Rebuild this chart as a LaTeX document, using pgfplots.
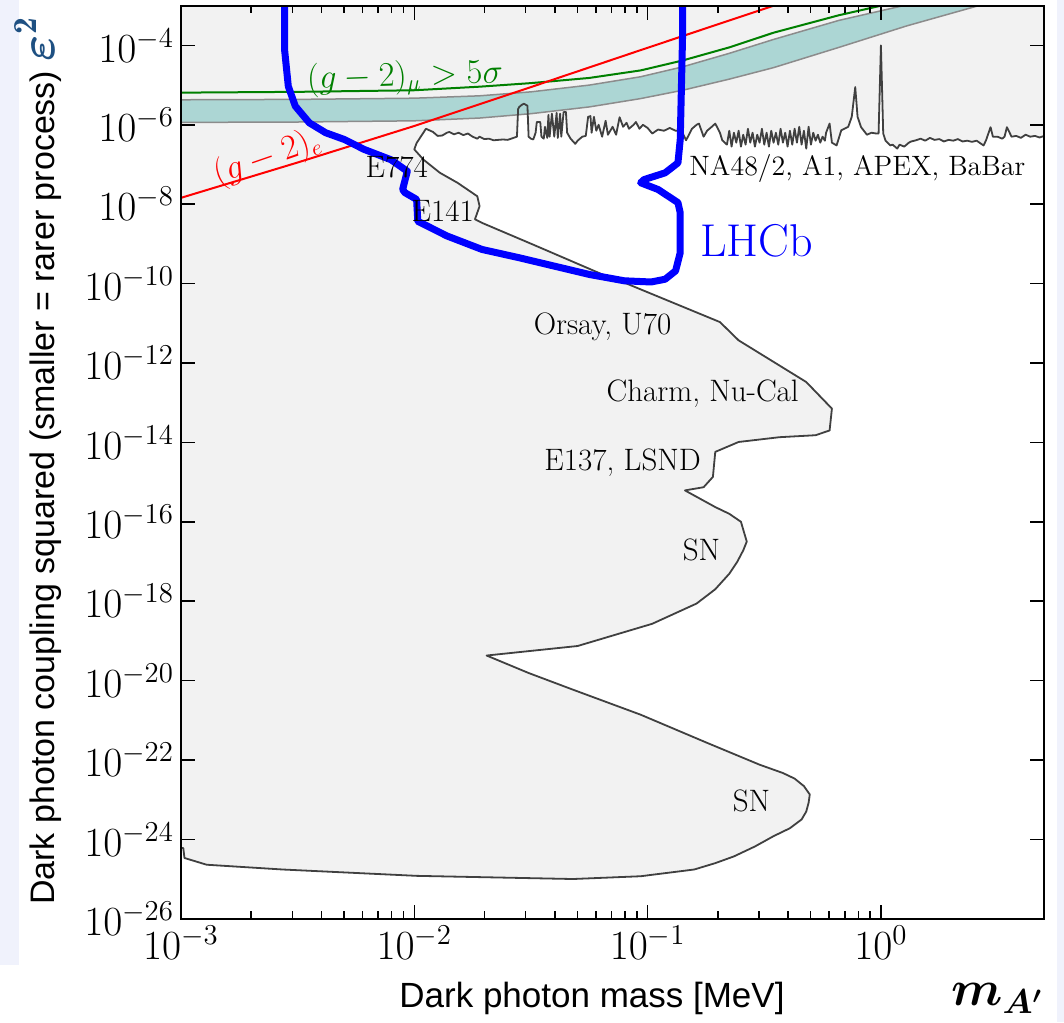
\documentclass[border=0pt]{standalone}
\usepackage{pgfplots}
\pgfplotsset{compat=1.18}
\usepackage{pgfplotstable}
\usepackage{amsmath}
\usepackage{fontspec}
\newfontfamily\arialfont{Liberation Sans}
\definecolor{bggray}{RGB}{242,242,242}
\definecolor{bdgray}{RGB}{64,64,64}
\definecolor{bandteal}{RGB}{172,214,212}
\definecolor{bandedge}{RGB}{140,140,140}
\definecolor{gmugreen}{RGB}{0,128,0}
\definecolor{epsblue}{RGB}{30,80,130}
\definecolor{lavender}{RGB}{240,242,252}

\pgfplotstableread{
x y
6.026 5.248e-7
5.012 5.248e-7
4.786 4.786e-7
4.571 5.248e-7
4.365 5.012e-7
4.169 5.623e-7
3.981 4.677e-7
3.802 5.248e-7
3.631 5.012e-7
3.467 8.710e-7
3.388 5.012e-7
3.311 4.467e-7
3.162 5.012e-7
3.020 5.012e-7
2.951 8.710e-7
2.818 3.981e-7
2.754 3.020e-7
2.570 3.981e-7
2.455 3.715e-7
2.344 3.981e-7
2.239 3.802e-7
2.138 4.365e-7
2.042 3.981e-7
1.950 4.169e-7
1.862 3.802e-7
1.778 4.365e-7
1.698 4.169e-7
1.622 4.677e-7
1.549 3.981e-7
1.479 4.467e-7
1.413 4.074e-7
1.349 3.802e-7
1.318 3.548e-7
1.259 2.818e-7
1.202 3.162e-7
1.175 2.512e-7
1.122 3.162e-7
1.096 3.020e-7
1.047 3.981e-7
1.023 6.026e-7
1.000 1.000e-4
0.9772 6.026e-7
0.9550 6.026e-7
0.9120 6.310e-7
0.8710 5.623e-7
0.8222 8.710e-7
0.7943 1.585e-6
0.7762 8.913e-6
0.7499 1.585e-6
0.7244 8.913e-7
0.6761 7.244e-7
0.6457 3.020e-7
0.6166 3.548e-7
0.6026 1.072e-6
0.5821 6.310e-7
0.5754 3.981e-7
0.5623 5.012e-7
0.5495 3.548e-7
0.5370 5.623e-7
0.5248 3.981e-7
0.5129 6.310e-7
0.5012 3.162e-7
0.4898 8.913e-7
0.4786 2.512e-7
0.4677 7.079e-7
0.4571 3.162e-7
0.4467 8.913e-7
0.4365 3.548e-7
0.4266 7.943e-7
0.4169 3.162e-7
0.4074 7.079e-7
0.3981 2.818e-7
0.3890 6.310e-7
0.3802 3.548e-7
0.3715 7.943e-7
0.3631 3.162e-7
0.3548 6.310e-7
0.3467 3.548e-7
0.3388 7.079e-7
0.3311 2.818e-7
0.3236 6.310e-7
0.3162 3.162e-7
0.3090 7.943e-7
0.3020 3.548e-7
0.2951 5.623e-7
0.2884 2.818e-7
0.2818 6.310e-7
0.2754 3.548e-7
0.2692 7.943e-7
0.2630 3.162e-7
0.2570 5.623e-7
0.2512 2.818e-7
0.2455 7.079e-7
0.2399 3.548e-7
0.2344 6.310e-7
0.2291 2.818e-7
0.2239 7.079e-7
0.2188 3.162e-7
0.2089 4.074e-7
0.2042 6.310e-7
0.1950 1.072e-6
0.1884 8.913e-7
0.1799 7.079e-7
0.1738 5.012e-7
0.1660 1.072e-6
0.1622 1.000e-6
0.1549 7.943e-7
0.1462 4.074e-7
0.1396 7.244e-7
0.1318 7.079e-7
0.1245 8.318e-7
0.1175 7.079e-7
0.1109 7.586e-7
0.1047 6.026e-7
0.1000 8.318e-7
0.09550 1.000e-6
0.09226 7.943e-7
0.08913 1.175e-6
0.08710 1.000e-6
0.08318 7.943e-7
0.08128 1.122e-6
0.07852 8.913e-7
0.07586 1.549e-6
0.07328 5.623e-7
0.07079 8.913e-7
0.06761 5.623e-7
0.06607 1.259e-6
0.06383 5.012e-7
0.06166 1.000e-6
0.06026 7.079e-7
0.05888 1.585e-6
0.05754 6.310e-7
0.05689 1.660e-6
0.05559 1.585e-6
0.05433 5.248e-7
0.05248 5.012e-7
0.05012 3.981e-7
0.04898 3.311e-7
0.04677 4.467e-7
0.04519 6.310e-7
0.04467 2.089e-6
0.04365 2.089e-6
0.04266 5.012e-7
0.04217 1.905e-6
0.04121 4.677e-7
0.04074 1.995e-6
0.03981 5.012e-7
0.03890 1.905e-6
0.03802 5.012e-7
0.03758 1.778e-6
0.03715 4.677e-7
0.03631 8.913e-7
0.03589 4.467e-7
0.03508 5.012e-7
0.03467 1.175e-6
0.03350 1.175e-6
0.03311 6.310e-7
0.03236 4.266e-7
0.03162 4.467e-7
0.03090 5.012e-7
0.03055 3.020e-6
0.02951 3.388e-6
0.02884 3.162e-6
0.02818 2.818e-6
0.02786 2.512e-6
0.02754 5.012e-7
0.02661 4.677e-7
0.02512 4.169e-7
0.02399 4.266e-7
0.02291 4.169e-7
0.02188 4.074e-7
0.02089 4.467e-7
0.01995 4.365e-7
0.01905 5.012e-7
0.01862 4.467e-7
0.01778 5.012e-7
0.01698 6.026e-7
0.01622 5.495e-7
0.01549 6.310e-7
0.01479 5.754e-7
0.01413 6.607e-7
0.01380 6.310e-7
0.01318 5.370e-7
0.01259 5.248e-7
0.01202 6.607e-7
0.01122 7.943e-7
0.01023 3.467e-7
0.01000 2.399e-7
0.01096 1.318e-7
0.01288 6.166e-8
0.01531 3.467e-8
0.01862 1.585e-8
0.01905 8.913e-9
0.01820 4.169e-9
0.01950 3.388e-9
0.03236 9.550e-10
0.07079 1.318e-10
0.08128 1.000e-10
0.2042 1.072e-11
0.2455 3.715e-12
0.4786 3.311e-13
0.6166 7.079e-14
0.6026 1.995e-14
0.5248 1.514e-14
0.3673 1.349e-14
0.2455 1.023e-14
0.1950 5.754e-15
0.1905 1.349e-15
0.1738 7.413e-16
0.1445 6.166e-16
0.1950 2.344e-16
0.2239 1.585e-16
0.2512 1.000e-16
0.2600 5.012e-17
0.2661 3.162e-17
0.2570 1.905e-17
0.2427 1.000e-17
0.2239 4.898e-18
0.1950 1.995e-18
0.1622 8.710e-19
0.1047 2.692e-19
0.05012 7.413e-20
0.02042 4.266e-20
0.03090 1.549e-20
0.04786 5.888e-21
0.09333 1.380e-21
0.1799 2.692e-22
0.3020 7.586e-23
0.3802 4.677e-23
0.4266 3.388e-23
0.4677 2.188e-23
0.4955 1.349e-23
0.4898 8.318e-24
0.4786 5.012e-24
0.4571 3.162e-24
0.4074 1.905e-24
0.3467 1.202e-24
0.2884 6.607e-25
0.2344 3.715e-25
0.1950 2.512e-25
0.1585 1.738e-25
0.09333 1.175e-25
0.04786 1.000e-25
0.01023 1.202e-25
0.002723 1.738e-25
0.001288 2.291e-25
0.001035 3.388e-25
0.001023 6.026e-25
0.0009 6.026e-25
0.0009 1e-27
6.026 1e-27
}\boundary

\begin{document}
\begin{tikzpicture}
\path[use as bounding box] (-90.5pt,-51.8pt) rectangle (441.5pt,459.35pt);
\fill[white] (-90.5pt,-51.8pt) rectangle (441.5pt,459.35pt);
\fill[lavender] (-90.5pt,-23.3pt) rectangle (-81pt,459.35pt);
\fill[lavender] (438pt,-51.8pt) rectangle (441.5pt,459.35pt);
\begin{axis}[
  at={(0,0)}, anchor=south west,
  scale only axis, width=431.5pt, height=456.5pt,
  xmode=log, ymode=log,
  xmin=1e-3, xmax=5, ymin=1e-26, ymax=1e-3,
  xtick={1e-3,1e-2,1e-1,1},
  ytick={1e-26,1e-24,1e-22,1e-20,1e-18,1e-16,1e-14,1e-12,1e-10,1e-8,1e-6,1e-4},
  yminorticks=false,
  tick align=inside,
  major tick length=7pt, minor tick length=3.75pt,
  tick style={black, line width=0.8pt},
  axis line style={line width=1pt},
  tick label style={font=\fontsize{21}{25}\selectfont},
  axis background/.style={fill=bggray},
  axis on top,
]
% allowed (white) region
\addplot[fill=white, draw=none] table[x=x,y=y] {\boundary} -- cycle;
% (g-2)_mu band
\addplot[fill=bandteal, draw=none] coordinates {
(0.001,4.266e-6) (0.003162,4.365e-6) (0.01,4.677e-6) (0.01905,5.370e-6) (0.03162,6.761e-6) (0.05623,1.000e-5) (0.09333,1.622e-5) (0.1413,2.884e-5) (0.2239,6.310e-5) (0.3467,1.413e-4) (0.6607,4.266e-4) (1.288,1.047e-3)
(2.692,1.047e-3) (1.288,3.090e-4) (0.6607,8.913e-5) (0.3467,2.754e-5) (0.2239,1.413e-5) (0.1413,7.413e-6) (0.09333,4.571e-6) (0.05623,2.818e-6) (0.03162,1.905e-6) (0.01905,1.479e-6) (0.01,1.259e-6) (0.003162,1.175e-6) (0.001,1.148e-6)
} -- cycle;
\addplot[bandedge, line width=0.75pt] coordinates {
(0.001,4.266e-6) (0.003162,4.365e-6) (0.01,4.677e-6) (0.01905,5.370e-6) (0.03162,6.761e-6) (0.05623,1.000e-5) (0.09333,1.622e-5) (0.1413,2.884e-5) (0.2239,6.310e-5) (0.3467,1.413e-4) (0.6607,4.266e-4) (1.288,1.047e-3)};
\addplot[bandedge, line width=0.75pt] coordinates {
(0.001,1.148e-6) (0.003162,1.175e-6) (0.01,1.259e-6) (0.01905,1.479e-6) (0.03162,1.905e-6) (0.05623,2.818e-6) (0.09333,4.571e-6) (0.1413,7.413e-6) (0.2239,1.413e-5) (0.3467,2.754e-5) (0.6607,8.913e-5) (1.288,3.090e-4) (2.692,1.047e-3)};
% boundary of excluded region
\addplot[bdgray, line width=0.9pt, line join=round] table[x=x,y=y] {\boundary};
% (g-2)_mu > 5 sigma
\addplot[gmugreen, line width=1pt] coordinates {
(0.001,6.457e-6) (0.003162,6.761e-6) (0.01,7.413e-6) (0.01905,9.120e-6) (0.03162,1.122e-5) (0.05623,1.514e-5) (0.09333,2.344e-5) (0.1413,4.169e-5) (0.2239,8.913e-5) (0.3467,2.089e-4) (0.6607,5.754e-4) (1.0,1.0e-3) (1.122,1.202e-3)};
% (g-2)_e
\addplot[red, line width=1pt] coordinates {
(0.001,1.445e-8) (0.003162,1.122e-7) (0.01,9.333e-7) (0.03162,8.913e-6) (0.1,8.710e-5) (0.3467,1.0e-3) (0.3890,1.259e-3)};
% LHCb
\addplot[blue, line width=3.5pt, line join=round, line cap=round] coordinates {
(0.002780,1.259e-3) (0.002780,7.762e-5) (0.002884,9.333e-6) (0.003090,2.951e-6) (0.003548,1.122e-6) (0.004169,6.310e-7) (0.005012,4.266e-7) (0.006095,2.399e-7) (0.007943,1.318e-7) (0.009333,6.761e-8) (0.008913,2.344e-8) (0.009120,1.950e-8) (0.01023,1.318e-8) (0.01035,3.715e-9) (0.01380,1.585e-9) (0.01950,7.244e-10) (0.02818,4.467e-10) (0.03981,2.754e-10) (0.05623,1.698e-10) (0.07943,1.175e-10) (0.1035,1.096e-10) (0.1189,1.288e-10) (0.1318,2.089e-10) (0.1380,6.026e-10) (0.1380,6.026e-9) (0.1349,1.096e-8) (0.1109,2.344e-8) (0.09333,3.467e-8) (0.09661,4.169e-8) (0.1189,6.166e-8) (0.1349,1.096e-7) (0.1380,4.266e-7) (0.1413,2.042e-4) (0.1413,1.259e-3)};
% labels
\node[text=gmugreen, rotate=2, font=\fontsize{16}{19}\selectfont] at (axis cs:0.009120,1.549e-5) {$(g-2)_\mu > 5\sigma$};
\node[text=red, rotate=19, font=\fontsize{16}{19}\selectfont] at (axis cs:0.002344,1.450e-7) {$(g-2)_e$};
\node[font=\fontsize{15.5}{18}\selectfont] at (axis cs:8.414e-3,8.511e-8) {E774};
\node[font=\fontsize{15.5}{18}\selectfont] at (axis cs:0.01324,6.607e-9) {E141};
\node[font=\fontsize{14}{17}\selectfont] at (axis cs:0.7925,7.943e-8) {NA48/2, A1, APEX, BaBar};
\node[text=blue, font=\fontsize{23}{27}\selectfont] at (axis cs:0.2931,1.230e-9) {LHCb};
\node[font=\fontsize{15.5}{18}\selectfont] at (axis cs:0.06412,8.318e-12) {Orsay, U70};
\node[font=\fontsize{15.5}{18}\selectfont] at (axis cs:0.1722,1.698e-13) {Charm, Nu-Cal};
\node[font=\fontsize{15.5}{18}\selectfont] at (axis cs:0.07816,3.162e-15) {E137, LSND};
\node[font=\fontsize{15.5}{18}\selectfont] at (axis cs:0.1702,1.905e-17) {SN};
\node[font=\fontsize{15.5}{18}\selectfont] at (axis cs:0.2786,9.550e-24) {SN};
\end{axis}
\node[font=\arialfont\fontsize{17.5}{21}\selectfont] at (205.5pt,-39.8pt) {Dark photon mass [MeV]};
\node[rotate=90, anchor=base west, inner sep=0pt, font=\arialfont\fontsize{17}{20}\selectfont] at (-63pt,6.7pt) {Dark photon coupling squared (smaller = rarer process) {\color{epsblue}\fontsize{24}{24}\selectfont$\boldsymbol{\varepsilon}^{\mathbf{2}}$}};
\node[font=\fontsize{24}{28}\selectfont] at (408pt,-39.8pt) {$\boldsymbol{m_{A'}}$};
\end{tikzpicture}
\end{document}
